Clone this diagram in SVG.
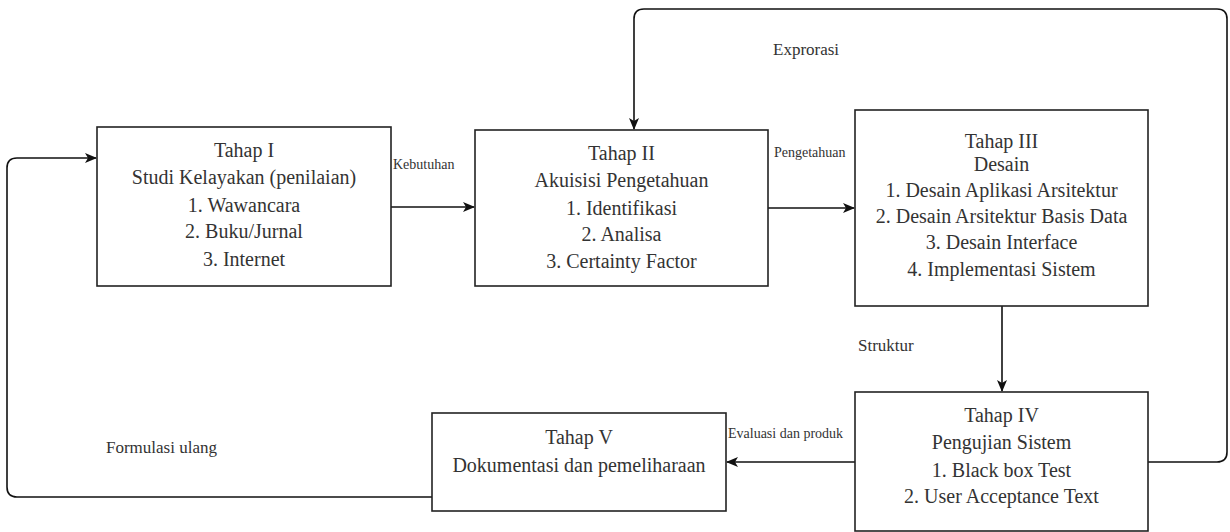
<svg xmlns="http://www.w3.org/2000/svg" width="1230" height="532" viewBox="0 0 1230 532">
<defs>
<marker id="arr" viewBox="0 0 12 10" refX="11" refY="5" markerWidth="12" markerHeight="10" markerUnits="userSpaceOnUse" orient="auto">
<path d="M0,0 L12,5 L0,10 L3,5 Z" fill="#111"/>
</marker>
<style>
.box{fill:#fff;stroke:#222;stroke-width:1.6}
.t{font-size:20px;fill:#333;text-anchor:middle}
.l{fill:#333}
.c{fill:none;stroke:#111;stroke-width:1.6}
</style>
</defs>
<rect width="1230" height="532" fill="#fff"/>
<g font-family="Liberation Serif, DejaVu Serif, serif">
<g id="connectors">
<path class="c" d="M391,207 L474,207" marker-end="url(#arr)"/>
<path class="c" d="M768,208 L854,208" marker-end="url(#arr)"/>
<path class="c" d="M1002,306 L1002,391" marker-end="url(#arr)"/>
<path class="c" d="M855,462 L727,462" marker-end="url(#arr)"/>
<path class="c" d="M1148,462 L1217,462 Q1227,462 1227,452 L1227,19 Q1227,9 1217,9 L644,9 Q634,9 634,19 L634,129" marker-end="url(#arr)"/>
<path class="c" d="M432,497 L17,497 Q7,497 7,487 L7,168 Q7,158 17,158 L96,158" marker-end="url(#arr)"/>
<text class="l" x="393" y="169" font-size="14">Kebutuhan</text>
<text class="l" x="774" y="157" font-size="14">Pengetahuan</text>
<text class="l" x="773" y="55" font-size="17">Exprorasi</text>
<text class="l" x="858" y="351" font-size="17">Struktur</text>
<text class="l" x="728" y="438" font-size="14">Evaluasi dan produk</text>
<text class="l" x="106" y="453" font-size="17">Formulasi ulang</text>
</g>
<g id="tahap1">
<rect class="box" x="97" y="127" width="294" height="159"/>
<text class="t" x="244" y="157">Tahap I</text>
<text class="t" x="244" y="184">Studi Kelayakan (penilaian)</text>
<text class="t" x="244" y="212">1. Wawancara</text>
<text class="t" x="244" y="238">2. Buku/Jurnal</text>
<text class="t" x="244" y="266">3. Internet</text>
</g>
<g id="tahap2">
<rect class="box" x="475" y="130" width="293" height="156"/>
<text class="t" x="621.5" y="160">Tahap II</text>
<text class="t" x="621.5" y="187">Akuisisi Pengetahuan</text>
<text class="t" x="621.5" y="215">1. Identifikasi</text>
<text class="t" x="621.5" y="241">2. Analisa</text>
<text class="t" x="621.5" y="268">3. Certainty Factor</text>
</g>
<g id="tahap3">
<rect class="box" x="855" y="110" width="293" height="196"/>
<text class="t" x="1001.5" y="148">Tahap III</text>
<text class="t" x="1001.5" y="171">Desain</text>
<text class="t" x="1001.5" y="197">1. Desain Aplikasi Arsitektur</text>
<text class="t" x="1001.5" y="223">2. Desain Arsitektur Basis Data</text>
<text class="t" x="1001.5" y="249">3. Desain Interface</text>
<text class="t" x="1001.5" y="276">4. Implementasi Sistem</text>
</g>
<g id="tahap4">
<rect class="box" x="855" y="392" width="293" height="139"/>
<text class="t" x="1001.5" y="422">Tahap IV</text>
<text class="t" x="1001.5" y="449">Pengujian Sistem</text>
<text class="t" x="1001.5" y="477">1. Black box Test</text>
<text class="t" x="1001.5" y="503">2. User Acceptance Text</text>
</g>
<g id="tahap5">
<rect class="box" x="432" y="413" width="294" height="98"/>
<text class="t" x="579" y="444">Tahap V</text>
<text class="t" x="579" y="472">Dokumentasi dan pemeliharaan</text>
</g>
</g>
</svg>
